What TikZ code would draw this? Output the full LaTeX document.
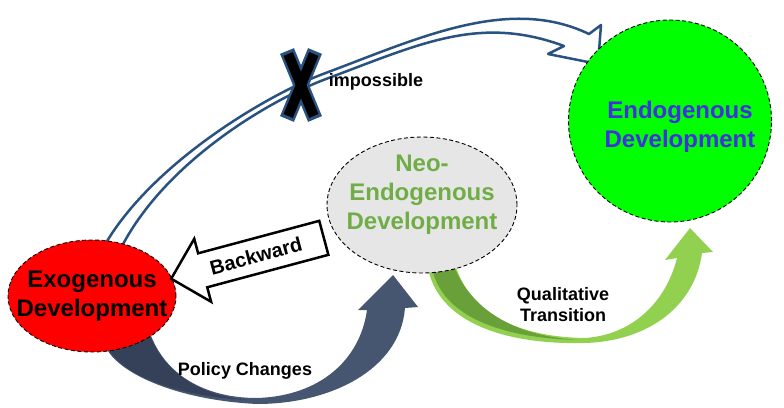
\documentclass[tikz,border=0pt]{standalone}
\usepackage{fontspec}
\setmainfont{Liberation Sans}
\usetikzlibrary{shapes.geometric,shapes.arrows}
\definecolor{exored}{RGB}{255,0,0}
\definecolor{endogreen}{RGB}{0,255,0}
\definecolor{neogray}{RGB}{230,230,230}
\definecolor{neotext}{RGB}{112,173,71}
\definecolor{endotext}{RGB}{64,48,224}
\definecolor{pathblue}{RGB}{41,82,128}
\definecolor{policy}{RGB}{70,85,112}
\definecolor{policydark}{RGB}{52,65,88}
\definecolor{transit}{RGB}{146,208,80}
\definecolor{transitdark}{RGB}{106,160,58}

\begin{document}
\begin{tikzpicture}[x=1pt, y=-1pt,
  stage/.style={ellipse, draw, dash pattern=on 4pt off 2.5pt, line width=0.9pt,
    inner sep=-25pt, align=center, font=\fontsize{24}{29}\selectfont\bfseries},
  arrowtext/.style={align=center, font=\fontsize{18}{21}\selectfont\bfseries}]
  \useasboundingbox (0,0) rectangle (784,407);

  % Arrows behind the stages
  \draw[pathblue, line width=2.5pt, fill=white, line join=round]
    (103,248) .. controls (150,164) and (267,95) .. (323,74)
    .. controls (417,39) and (508,-5) .. (589,34)
    -- (601,25) -- (598,64) -- (548,54) -- (564,46)
    .. controls (479,14.5) and (420,44) .. (326,79)
    .. controls (270,100) and (164,162) .. (120,250);

  \fill[policy] (105,345) .. controls (115,372) and (175,400) .. (257,404)
    .. controls (330,404) and (400,370) .. (405,308)
    -- (418,307) -- (393,275) -- (358,310) -- (367,310)
    .. controls (360,360) and (320,396) .. (257,398)
    .. controls (205,398) and (165,375) .. (150,333) -- cycle;
  \fill[policydark] (106,345) .. controls (118,372) and (170,396) .. (248,400)
    .. controls (200,396) and (163,372) .. (149,333) -- cycle;

  \fill[transit] (428,268) .. controls (438,320) and (500,345) .. (585,343)
    .. controls (650,341) and (695,305) .. (702,253)
    -- (713,252) -- (690,228) -- (665,260) -- (677,258)
    .. controls (665,305) and (630,335) .. (585,338)
    .. controls (520,337) and (470,315) .. (455,264) -- cycle;
  \fill[transitdark] (432,268) .. controls (442,316) and (500,338) .. (578,340)
    .. controls (518,336) and (472,313) .. (453,264) -- cycle;

  % Nodes
  \node (exo) [stage, fill=exored, minimum width=168, minimum height=112] at (92,296) {Exogenous\\Development};
  \node (neo) [stage, fill=neogray, text=neotext, text depth=25pt, minimum width=190, minimum height=136] at (422,205) {Neo-\\Endogenous\\Development};
  \node (endo) [stage, fill=endogreen, text=endotext, text height=57pt, minimum width=203, minimum height=202] at (670,121) {\hspace*{20pt}Endogenous\\\hspace*{20pt}Development};

  \node (back) [single arrow, draw, line width=2.5pt, fill=white, shape border rotate=180, rotate=15,
    single arrow head extend=15, minimum height=158, inner xsep=6, inner ysep=9,
    font=\fontsize{20}{22}\selectfont\bfseries] at (256,256) {Backward};

  % Labels
  \node (imp) [arrowtext] at (376,82) {impossible};
  \node (pol) [arrowtext] at (245,371) {Policy Changes};
  \node (qual) [arrowtext] at (563,305) {Qualitative\\Transition};

  % Cross
  \coordinate (cross) at (301,85);
  \draw[pathblue, line width=15pt] (cross) ++(-14,-34) -- ++(28,68);
  \draw[pathblue, line width=15pt] (cross) ++(14,-34) -- ++(-28,68);
  \draw[black, line width=10pt] (cross) ++(-12.8,-31) -- ++(25.6,62);
  \draw[black, line width=10pt] (cross) ++(12.8,-31) -- ++(-25.6,62);
\end{tikzpicture}
\end{document}
